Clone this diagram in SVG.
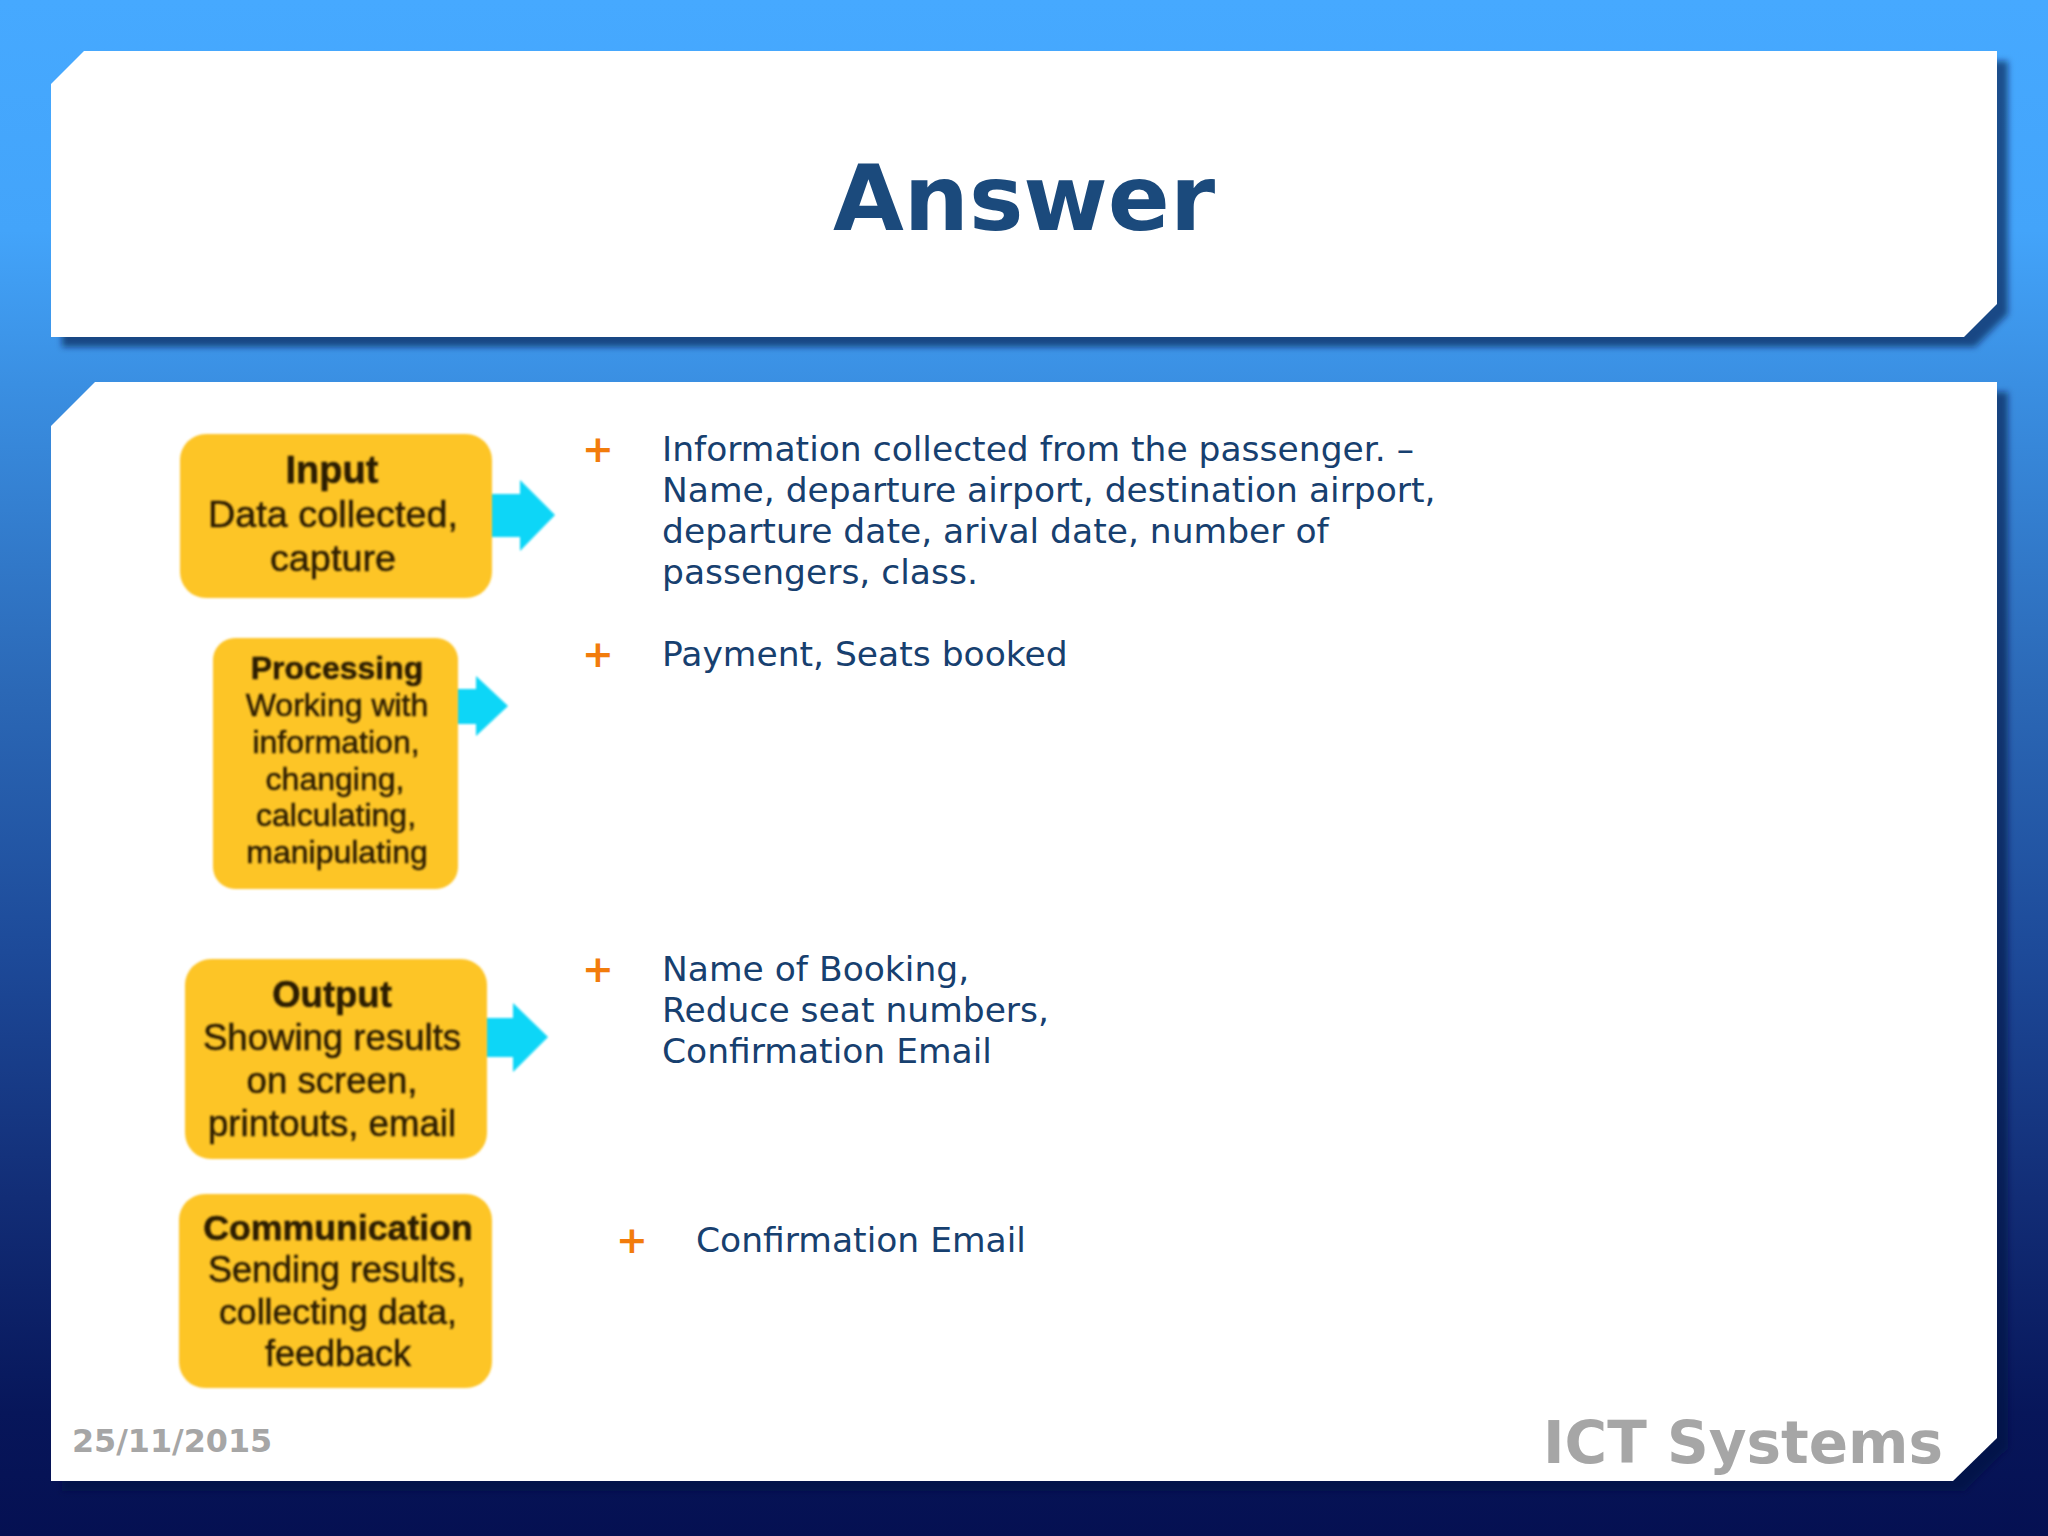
<svg xmlns="http://www.w3.org/2000/svg" width="2048" height="1536" viewBox="0 0 2048 1536">
<defs>
<linearGradient id="bg" x1="0" y1="0" x2="0" y2="1">
<stop offset="0" stop-color="#46a9ff"/>
<stop offset="0.15" stop-color="#43a4fa"/>
<stop offset="0.25" stop-color="#3a8fe2"/>
<stop offset="0.45" stop-color="#2b68b6"/>
<stop offset="0.62" stop-color="#1d4a99"/>
<stop offset="0.78" stop-color="#122d76"/>
<stop offset="0.92" stop-color="#07165a"/>
<stop offset="1" stop-color="#051052"/>
</linearGradient>
<filter id="sh" x="-5%" y="-5%" width="110%" height="110%"><feGaussianBlur stdDeviation="3"/></filter>
<filter id="soft" x="-10%" y="-10%" width="120%" height="120%"><feGaussianBlur stdDeviation="1.2"/></filter>
<filter id="txt" x="-10%" y="-20%" width="120%" height="140%"><feGaussianBlur stdDeviation="0.9"/></filter>
<path id="p1" d="M84 51H1997V304L1964 337H51V84Z"/>
<path id="p2" d="M95 382H1997V1438L1953 1481H51V426Z"/>
</defs>
<style>
.panel{fill:#fff}
.shadow{fill:#04193f;fill-opacity:.6}
.box{fill:#fdc526;filter:url(#soft)}
.arrow{fill:#0bd6f7;filter:url(#soft)}
text{font-family:"DejaVu Sans","Liberation Sans",sans-serif}
.title{font-size:91.5px;font-weight:700;fill:#1b4a7c;text-anchor:middle}
.body{font-size:34.5px;fill:#17406f}
.plus{font-size:38px;font-weight:700;fill:#f27c0c;text-anchor:middle}
.in{font-family:"Liberation Sans",Arial,sans-serif;fill:#2b1c02;stroke:#2b1c02;stroke-width:.5px;text-anchor:middle;filter:url(#txt)}
.foot{font-weight:700;fill:#a6a6a6}
</style>
<rect width="2048" height="1536" fill="url(#bg)"/>
<g id="panels">
<use href="#p1" class="shadow" x="11" y="10" filter="url(#sh)"/>
<use href="#p1" class="panel"/>
<use href="#p2" class="shadow" x="11" y="10" filter="url(#sh)"/>
<use href="#p2" class="panel"/>
</g>
<g id="title"><text class="title" x="1024" y="230">Answer</text></g>
<g id="connectors">
<path class="arrow" d="M490 494H520V480L555 515L520 551V537H490Z"/>
<path class="arrow" d="M456 689H476V676L508 706L476 736V724H456Z"/>
<path class="arrow" d="M485 1018H513V1003L548 1037L513 1072V1057H485Z"/>
</g>
<g id="node-input">
<rect class="box" x="180" y="434" width="312" height="164" rx="26"/>
<text class="in" x="332" y="483" font-size="38" font-weight="700">Input</text>
<text class="in" x="333" y="527" font-size="37.8">Data collected,</text>
<text class="in" x="333" y="571" font-size="37.8">capture</text>
</g>
<g id="node-processing">
<rect class="box" x="213" y="638" width="245" height="251" rx="22"/>
<text class="in" x="337" y="679" font-size="32" font-weight="700">Processing</text>
<text class="in" x="337" y="716" font-size="32">Working with</text>
<text class="in" x="336" y="753" font-size="32">information,</text>
<text class="in" x="335" y="790" font-size="32">changing,</text>
<text class="in" x="336" y="826" font-size="32">calculating,</text>
<text class="in" x="337" y="863" font-size="32">manipulating</text>
</g>
<g id="node-output">
<rect class="box" x="185" y="959" width="302" height="200" rx="26"/>
<text class="in" x="332" y="1007" font-size="36.5" font-weight="700">Output</text>
<text class="in" x="332" y="1050" font-size="36.6">Showing results</text>
<text class="in" x="332" y="1093" font-size="36.6">on screen,</text>
<text class="in" x="332" y="1136" font-size="36.6">printouts, email</text>
</g>
<g id="node-communication">
<rect class="box" x="179" y="1194" width="313" height="194" rx="26"/>
<text class="in" x="338" y="1240" font-size="35.7" font-weight="700">Communication</text>
<text class="in" x="337" y="1282" font-size="36">Sending results,</text>
<text class="in" x="338" y="1324" font-size="35.7">collecting data,</text>
<text class="in" x="338" y="1366" font-size="36">feedback</text>
</g>
<g id="answers">
<text class="plus" x="598" y="462">+</text>
<text class="body" x="662" y="461">Information collected from the passenger. –</text>
<text class="body" x="662" y="502">Name, departure airport, destination airport,</text>
<text class="body" x="662" y="543">departure date, arival date, number of</text>
<text class="body" x="662" y="584">passengers, class.</text>
<text class="plus" x="598" y="667">+</text>
<text class="body" x="662" y="666">Payment, Seats booked</text>
<text class="plus" x="598" y="982">+</text>
<text class="body" x="662" y="981">Name of Booking,</text>
<text class="body" x="662" y="1022">Reduce seat numbers,</text>
<text class="body" x="662" y="1063">Confirmation Email</text>
<text class="plus" x="632" y="1253">+</text>
<text class="body" x="696" y="1252">Confirmation Email</text>
</g>
<g id="footer">
<text class="foot" x="72" y="1452" font-size="31.8">25/11/2015</text>
<text class="foot" x="1543" y="1463" font-size="58">ICT Systems</text>
</g>
</svg>
